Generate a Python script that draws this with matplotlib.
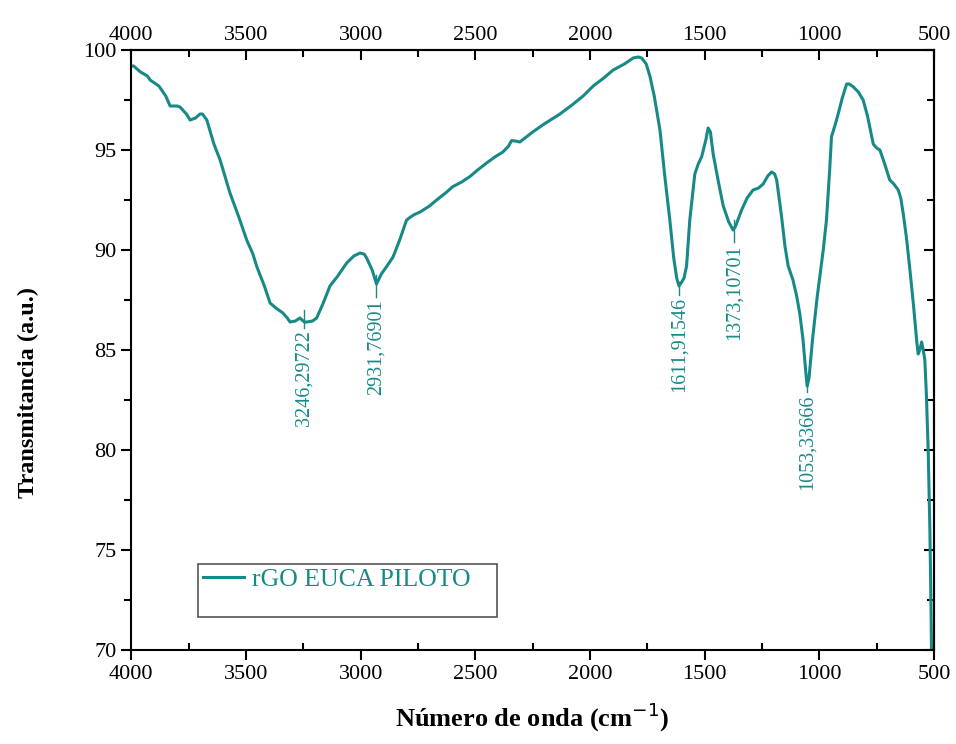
import matplotlib.pyplot as plt
from matplotlib.ticker import MultipleLocator
from matplotlib.patches import Rectangle

plt.rcParams['font.family'] = ['Liberation Serif', 'DejaVu Serif']

# espectro FTIR leido dal grafico (numero de onda, transmitancia)
wavenumber = [4000, 3990, 3960, 3930, 3918, 3880, 3850, 3831, 3800, 3788, 3760, 3744,
              3720, 3701, 3690, 3671, 3640, 3613, 3570, 3530, 3497, 3470, 3453, 3420,
              3395, 3370, 3339, 3320, 3308, 3285, 3265, 3246, 3235, 3210, 3192, 3165,
              3134, 3100, 3061, 3030, 3003, 2985, 2974, 2950, 2931, 2910, 2887, 2859,
              2830, 2800, 2770, 2741, 2700, 2669, 2630, 2598, 2560, 2524, 2490, 2451,
              2415, 2380, 2355, 2342, 2325, 2306, 2250, 2200, 2131, 2073, 2030, 1986,
              1940, 1899, 1850, 1812, 1790, 1775, 1755, 1739, 1720, 1695, 1675, 1652,
              1635, 1622, 1612, 1600, 1590, 1579, 1565, 1543, 1528, 1513, 1495, 1485,
              1475, 1463, 1440, 1419, 1395, 1376, 1365, 1339, 1315, 1289, 1265, 1245,
              1225, 1208, 1195, 1186, 1165, 1150, 1136, 1115, 1099, 1085, 1071, 1060,
              1053, 1045, 1030, 1010, 983, 969, 955, 947, 930, 918, 900, 881, 870, 853,
              830, 809, 790, 765, 750, 736, 715, 693, 675, 656, 645, 634, 620, 605, 590,
              575, 569, 560, 554, 547, 540, 533, 525, 518, 513, 510]
transmit = [99.2, 99.2, 98.9, 98.7, 98.5, 98.2, 97.7, 97.2, 97.2, 97.15, 96.8, 96.5,
            96.6, 96.8, 96.8, 96.5, 95.3, 94.5, 92.85, 91.6, 90.5, 89.8, 89.17, 88.2,
            87.35, 87.1, 86.85, 86.6, 86.4, 86.45, 86.6, 86.4, 86.4, 86.45, 86.6, 87.3,
            88.2, 88.7, 89.35, 89.7, 89.85, 89.8, 89.6, 89.0, 88.3, 88.8, 89.17, 89.65,
            90.5, 91.5, 91.75, 91.9, 92.2, 92.5, 92.85, 93.17, 93.4, 93.67, 94.0, 94.35,
            94.65, 94.9, 95.2, 95.47, 95.45, 95.4, 95.9, 96.3, 96.8, 97.3, 97.7, 98.2,
            98.6, 99.0, 99.3, 99.6, 99.65, 99.6, 99.3, 98.7, 97.7, 96.0, 93.8, 91.5,
            89.6, 88.6, 88.2, 88.4, 88.6, 89.2, 91.5, 93.8, 94.3, 94.67, 95.5, 96.1,
            95.9, 94.8, 93.4, 92.2, 91.4, 91.0, 91.2, 92.0, 92.6, 93.0, 93.1, 93.3,
            93.7, 93.9, 93.8, 93.5, 91.7, 90.2, 89.2, 88.5, 87.7, 86.8, 85.5, 84.0,
            83.2, 83.6, 85.5, 87.6, 90.0, 91.5, 94.0, 95.67, 96.3, 96.8, 97.6, 98.3, 98.3, 98.17,
            97.9, 97.5, 96.7, 95.3, 95.1, 95.0, 94.3, 93.5, 93.3, 93.0, 92.6, 91.8, 90.6, 89.0, 87.3,
            85.4, 84.8, 85.1, 85.4, 85.0, 84.5, 82.7, 79.8, 76.0, 72.0, 69.0]

# picchi etichettati: posizione, inizio e fine della lineetta
peaks = [3246.29722, 2931.76901, 1611.91546, 1373.10701, 1053.33666]
peak_labels = ["3246,29722", "2931,76901", "1611,91546", "1373,10701", "1053,33666"]
lead_top = [87.0, 88.75, 88.4, 91.5, 83.3]
lead_bot = [86.1, 87.65, 87.75, 90.4, 82.9]

teal = "#178a87"

fig = plt.figure(figsize=(9.56, 7.44), dpi=100)
ax = fig.add_axes([0.1374, 0.1263, 0.8396, 0.8065])
ax.plot(wavenumber, transmit, color=teal, lw=2.2, label="rGO EUCA PILOTO")

for p, lab, t, b in zip(peaks, peak_labels, lead_top, lead_bot):
    ax.plot([p, p], [t, b], color=teal, lw=1)
    ax.text(p, b - 0.1, lab, rotation=90, ha="center", va="top", color=teal, fontsize=14.5)

ax.set_xlim(4000, 500)
ax.set_ylim(70, 100)
ax.xaxis.set_major_locator(MultipleLocator(500))
ax.xaxis.set_minor_locator(MultipleLocator(250))
ax.yaxis.set_major_locator(MultipleLocator(5))
ax.yaxis.set_minor_locator(MultipleLocator(2.5))
ax.tick_params(axis="x", which="major", direction="out", length=7, width=1.5, labelsize=16)
ax.tick_params(axis="x", which="minor", direction="in", length=5, width=1.5)
ax.tick_params(axis="y", which="both", direction="out", width=1.5, labelsize=16)
ax.tick_params(axis="y", which="major", length=7)
ax.tick_params(axis="y", which="minor", length=5)

# asse sopra e a destra con tacche verso l'interno
top = ax.secondary_xaxis("top")
top.xaxis.set_major_locator(MultipleLocator(500))
top.xaxis.set_minor_locator(MultipleLocator(250))
top.tick_params(which="both", direction="in", width=1.5, labelsize=16)
top.tick_params(which="major", length=7)
top.tick_params(which="minor", length=5)
right = ax.secondary_yaxis("right")
right.yaxis.set_major_locator(MultipleLocator(5))
right.yaxis.set_minor_locator(MultipleLocator(2.5))
right.tick_params(which="both", direction="in", width=1.5, labelright=False)
right.tick_params(which="major", length=7)
right.tick_params(which="minor", length=5)

for s in list(ax.spines.values()) + [top.spines["top"], right.spines["right"]]:
    s.set_linewidth(1.5)

ax.set_xlabel("Número de onda (cm$^{-1}$)", fontsize=19, fontweight="bold", labelpad=12)
ax.set_ylabel("Transmitancia (a.u.)", fontsize=17.5, fontweight="bold")
ax.yaxis.set_label_coords(-0.115, 0.43)

# legenda senza cornice + riquadro piu' alto, come nell'originale
ax.legend(loc="center left", bbox_to_anchor=(0.083, 0.118), fontsize=18.5,
          frameon=False, handlelength=1.6, handletextpad=0.3,
          borderpad=0.2, borderaxespad=0, labelcolor=teal)
ax.add_patch(Rectangle((0.083, 0.055), 0.3726, 0.0883, transform=ax.transAxes,
                       fill=False, edgecolor="#555555", lw=1.2))

fig.savefig("out.png", dpi=100)
